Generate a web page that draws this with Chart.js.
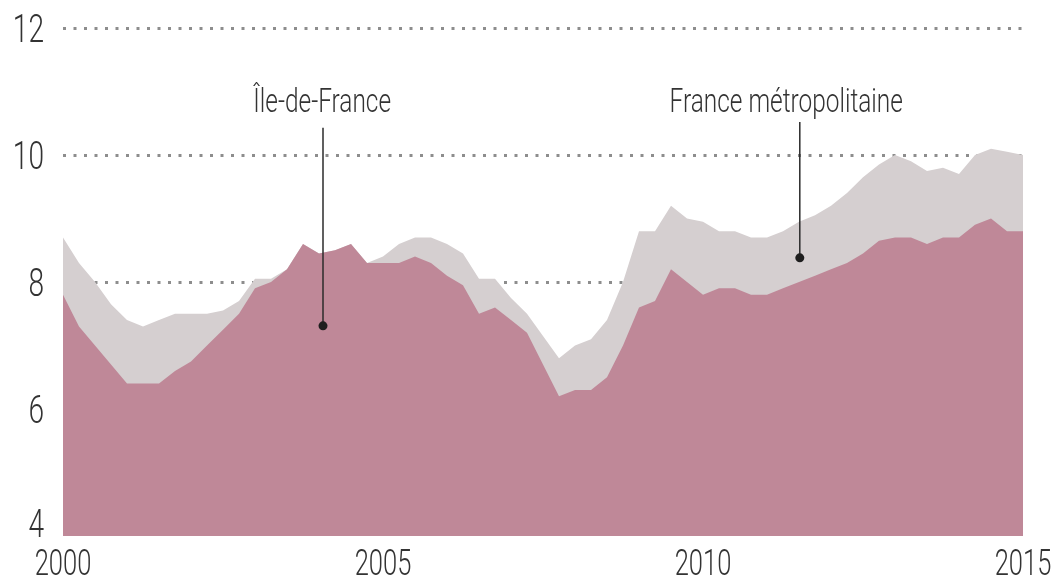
<!DOCTYPE html>
<html>
<head>
<meta charset="utf-8">
<script src="https://cdn.jsdelivr.net/npm/chart.js@4"></script>
<style>
  html, body { margin: 0; padding: 0; background: #fff; }
  #wrap { width: 1053px; height: 578px; position: relative; }
</style>
</head>
<body>
<div id="wrap"><canvas id="chart"></canvas></div>
<script>
// quarterly, 2000 T1 .. 2015 T1
const quarters = [];
for (let y = 2000; y <= 2015; y++) {
  for (let q = 1; q <= 4; q++) {
    if (y === 2015 && q > 1) break;
    quarters.push(y + ' T' + q);
  }
}

// Île-de-France (%)
const idf = [
  7.8, 7.3, 7.0, 6.7, 6.4, 6.4, 6.4, 6.6, 6.75, 7.0,
  7.25, 7.5, 7.9, 8.0, 8.2, 8.6, 8.45, 8.5, 8.6, 8.3,
  8.3, 8.3, 8.4, 8.3, 8.1, 7.95, 7.5, 7.6, 7.4, 7.2,
  6.7, 6.2, 6.3, 6.3, 6.5, 7.0, 7.6, 7.7, 8.2, 8.0,
  7.8, 7.9, 7.9, 7.8, 7.8, 7.9, 8.0, 8.1, 8.2, 8.3,
  8.45, 8.65, 8.7, 8.7, 8.6, 8.7, 8.7, 8.9, 9.0, 8.8,
  8.8
];

// France métropolitaine (%)
const france = [
  8.7, 8.3, 8.0, 7.65, 7.4, 7.3, 7.4, 7.5, 7.5, 7.5,
  7.55, 7.7, 8.05, 8.05, 8.2, 8.6, 8.45, 8.5, 8.6, 8.3,
  8.4, 8.6, 8.7, 8.7, 8.6, 8.45, 8.05, 8.05, 7.75, 7.5,
  7.15, 6.8, 7.0, 7.1, 7.4, 8.0, 8.8, 8.8, 9.2, 9.0,
  8.95, 8.8, 8.8, 8.7, 8.7, 8.8, 8.95, 9.05, 9.2, 9.4,
  9.65, 9.85, 10.0, 9.9, 9.75, 9.8, 9.7, 10.0, 10.1, 10.05,
  10.0
];

const yTicks = [4, 6, 8, 10, 12];
const xTickYears = [2000, 2005, 2010, 2015];

// callouts: label, text anchor (quarter index, value), line top value, dot (index, value)
const noteLabels = ['Île-de-France', 'France métropolitaine'];
const noteTextX = [16.2, 45.2];
const noteTextY = [10.68, 10.68];
const noteLineTop = [10.43, 10.52];
const noteDotX = [16.25, 46.05];
const noteDotY = [7.31, 8.38];

const TEXT = '#333333';

// the original uses a light condensed face, so squeeze Roboto Light horizontally
function condensedText(ctx, text, x, y, align, size, squeeze) {
  ctx.save();
  ctx.translate(x, y);
  ctx.scale(squeeze, 1);
  ctx.font = '300 ' + size + 'px Roboto, "Liberation Sans", sans-serif';
  ctx.fillStyle = TEXT;
  ctx.textAlign = align;
  ctx.textBaseline = 'alphabetic';
  ctx.fillText(text, 0, 0);
  ctx.restore();
}

const tickText = {
  id: 'tickText',
  afterDraw(chart) {
    const { ctx, chartArea, scales: { x, y } } = chart;
    y.ticks.forEach(t => {
      const py = y.getPixelForValue(t.value);
      // the bottom label sits on the axis instead of being centred on it
      const base = t.value === y.min ? py + 1 : py + 14;
      condensedText(ctx, String(t.value), chartArea.left - 19, base, 'right', 39, 0.72);
    });
    xTickYears.forEach(yr => {
      const px = x.getPixelForValue(quarters.indexOf(yr + ' T1'));
      condensedText(ctx, String(yr), px, chartArea.bottom + 39, 'center', 37, 0.69);
    });
  }
};

const callouts = {
  id: 'callouts',
  afterDatasetsDraw(chart) {
    const { ctx, scales: { x, y } } = chart;
    ctx.save();
    noteLabels.forEach((label, i) => {
      const dx = x.getPixelForValue(noteDotX[i]);
      const dy = y.getPixelForValue(noteDotY[i]);
      ctx.strokeStyle = '#2b2b2b';
      ctx.lineWidth = 1.5;
      ctx.beginPath();
      ctx.moveTo(dx, y.getPixelForValue(noteLineTop[i]));
      ctx.lineTo(dx, dy);
      ctx.stroke();
      ctx.fillStyle = '#1e1e1e';
      ctx.beginPath();
      ctx.arc(dx, dy, 4.5, 0, Math.PI * 2);
      ctx.fill();
      condensedText(ctx, label, x.getPixelForValue(noteTextX[i]), y.getPixelForValue(noteTextY[i]), 'center', 33, 0.74);
    });
    ctx.restore();
  }
};

new Chart(document.getElementById('chart'), {
  type: 'line',
  data: {
    labels: quarters,
    datasets: [
      {
        label: 'Île-de-France',
        data: idf,
        backgroundColor: '#bf8898',
        borderWidth: 0,
        pointRadius: 0,
        fill: 'start',
        tension: 0
      },
      {
        label: 'France métropolitaine',
        data: france,
        backgroundColor: '#d5cfd0',
        borderWidth: 0,
        pointRadius: 0,
        fill: 'start',
        tension: 0
      }
    ]
  },
  options: {
    responsive: true,
    maintainAspectRatio: false,
    animation: false,
    layout: { padding: { top: 28, right: 30, left: 0, bottom: 0 } },
    plugins: {
      legend: { display: false },
      tooltip: { enabled: false }
    },
    scales: {
      x: {
        type: 'category',
        offset: false,
        grid: { display: false, drawTicks: false },
        border: { display: false },
        ticks: { display: false },
        afterFit: (scale) => { scale.height = 42; }
      },
      y: {
        min: 4,
        max: 12,
        afterBuildTicks: (scale) => { scale.ticks = yTicks.map(v => ({ value: v })); },
        grid: {
          drawTicks: false,
          lineWidth: 3,
          color: (c) => (c.tick && c.tick.value > 7 ? '#8d8d8d' : 'rgba(0,0,0,0)')
        },
        border: { display: false, dash: [3, 7.5] },
        ticks: { display: false },
        afterFit: (scale) => { scale.width = 63; }
      }
    }
  },
  plugins: [callouts, tickText]
});
</script>
</body>
</html>
